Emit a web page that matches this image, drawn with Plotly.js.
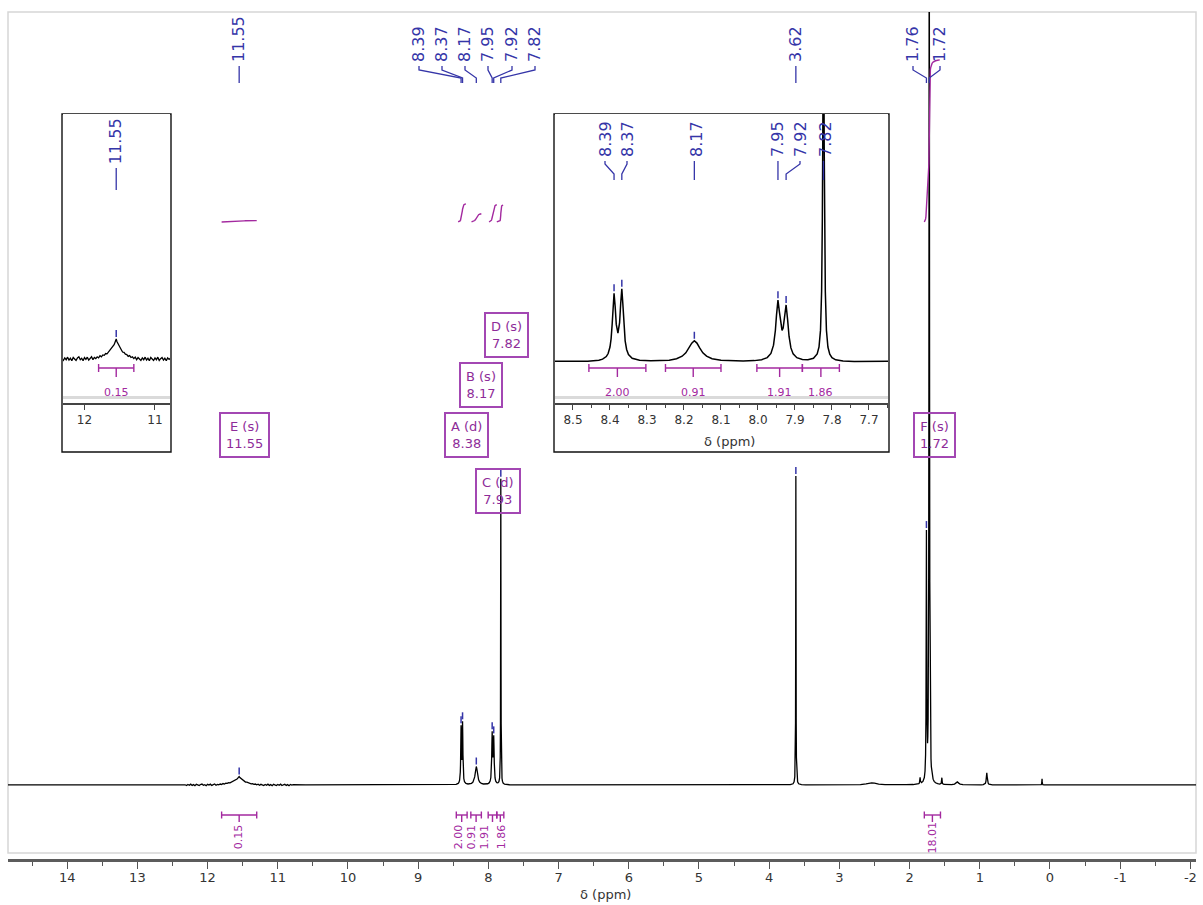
<!DOCTYPE html>
<html><head><meta charset="utf-8">
<script src="https://cdn.plot.ly/plotly-3.0.1.min.js"></script>
<style>html,body{margin:0;padding:0;background:#fff;}#chart{width:1203px;height:905px;}</style>
</head><body><div id="chart"></div>
<script>
// ================= DATA =================
// spectrum segments, ppm (descending) and intensity
const leftPpm=[14.90,13.50,12.40];
const leftInt=[0,0,0.02];
const noisePpm=[12.32,12.30,12.28,12.26,12.24,12.22,12.20,12.18,12.16,12.14,12.12,12.10,12.08,12.06,12.04,12.02,12.00,11.98,11.96,11.94,11.92,11.90,11.88,11.86,11.84,11.82,11.80,11.78,11.76,11.74,11.72,11.70,11.68,11.66,11.64,11.62,11.60,11.58,11.56,11.55,11.54,11.52,11.50,11.48,11.46,11.44,11.42,11.40,11.38,11.36,11.34,11.32,11.30,11.28,11.26,11.24,11.22,11.20,11.18,11.16,11.14,11.12,11.10,11.08,11.06,11.04,11.02,11.00,10.98,10.96,10.94,10.92,10.90,10.88,10.86,10.84,10.82,10.80,10.78];
const noiseInt=[0.05,-0.2,0.15,-0.1,0.25,-0.15,0.1,-0.25,0.2,0.0,-0.2,0.15,0.3,-0.1,0.1,-0.25,0.2,-0.05,0.25,-0.15,0.1,0.3,-0.1,0.2,0.05,0.3,0.15,0.45,0.3,0.55,0.5,0.75,0.7,0.95,1.05,1.3,1.55,1.95,2.45,2.75,2.4,2.0,1.5,1.3,0.95,0.9,0.65,0.6,0.35,0.45,0.2,0.3,0.05,0.25,-0.1,0.2,0.0,-0.2,0.15,-0.1,0.25,-0.15,0.1,-0.25,0.2,0.0,-0.2,0.15,-0.1,0.25,-0.2,0.05,0.2,-0.15,0.1,-0.25,0.15,-0.05,0.1];
const gap1Ppm=[10.60,9.80,9.00,8.70];
const gap1Int=[0.0,0.01,0.02,0.04];
const aroPpm=[8.55,8.50,8.46,8.43,8.42,8.41,8.405,8.40,8.397,8.394,8.392,8.389,8.386,8.383,8.3785,8.374,8.371,8.368,8.365,8.362,8.359,8.355,8.35,8.34,8.32,8.29,8.26,8.24,8.22,8.205,8.195,8.186,8.179,8.172,8.165,8.158,8.149,8.139,8.124,8.10,8.07,8.04,8.01,7.99,7.975,7.965,7.958,7.953,7.95,7.946,7.942,7.938,7.935,7.932,7.928,7.924,7.92,7.916,7.911,7.905,7.895,7.88,7.865,7.85,7.84,7.835,7.831,7.828,7.826,7.825,7.824,7.823,7.822,7.821,7.820,7.818,7.815,7.811,7.806,7.80,7.79,7.77,7.74,7.70,7.65];
const aroInt=[0.06,0.10,0.21,0.51,0.81,1.54,2.40,4.25,6.57,10.86,15.06,19.51,15.76,10.68,8.2,11.15,16.7,20.8,16.1,9.75,6.0,3.56,2.1,1.04,0.48,0.32,0.38,0.53,0.93,1.64,2.61,4.05,5.35,6.03,5.37,4.05,2.6,1.65,0.93,0.49,0.31,0.28,0.39,0.66,1.25,2.42,4.77,8.95,13.24,17.56,14.17,10.0,8.96,9.66,13.2,16.2,12.15,7.25,4.0,2.3,1.22,0.73,0.67,1.06,2.29,4.3,9.05,20.15,41.1,61.1,86.3,100.1,86.3,61.1,41.1,20.1,9.0,4.25,2.2,1.24,0.62,0.25,0.12,0.06,0.03];
const gap2Ppm=[7.40,6.50,5.50,4.50,3.95,3.82];
const gap2Int=[0.02,0.01,0.0,0.01,0.02,0.03];
const methylPpm=[3.75,3.70,3.66,3.645,3.635,3.628,3.625,3.623,3.622,3.621,3.620,3.619,3.618,3.617,3.615,3.612,3.605,3.595,3.58,3.54,3.48];
const methylInt=[0.04,0.1,0.39,1.0,2.73,8.99,20.2,41.4,61.6,87.1,101,87.1,61.6,41.4,20.2,8.99,2.73,1.0,0.39,0.1,0.04];
const gap3Ppm=[3.30,3.00,2.90];
const gap3Int=[0.02,0.02,0.03];
const humpPpm=[2.80,2.70,2.62,2.57,2.54,2.50,2.44,2.35,2.25];
const humpInt=[0.05,0.12,0.35,0.6,0.7,0.6,0.3,0.12,0.06];
const aliPpm=[2.05,1.95,1.90,1.87,1.86,1.855,1.85,1.845,1.84,1.83,1.81,1.80,1.79,1.78,1.772,1.767,1.764,1.762,1.76,1.758,1.756,1.753,1.748,1.744,1.74,1.736,1.732,1.728,1.725,1.723,1.72,1.717,1.715,1.712,1.708,1.704,1.70,1.695,1.69,1.68,1.665,1.65,1.63,1.60,1.57,1.55,1.545,1.54,1.535,1.53,1.51,1.45];
const aliInt=[0.09,0.14,0.24,0.42,0.67,1.21,2.47,1.28,0.84,0.77,1.17,1.61,2.44,4.54,9.94,22.1,42.7,67.0,83.3,67.6,44.0,24.5,14.6,13.6,15.8,21.6,34.6,67.2,129.8,212.0,330.8,211.7,129.4,66.5,33.4,19.8,13.05,8.55,6.0,3.47,1.89,1.17,0.72,0.43,0.3,0.5,1.03,2.37,1.02,0.46,0.16,0.1];
const p5Ppm=[1.40,1.36,1.34,1.32,1.30,1.28,1.24,1.15,1.05];
const p5Int=[0.12,0.3,0.6,1.0,0.6,0.3,0.12,0.03,0.02];
const p6Ppm=[0.98,0.95,0.93,0.92,0.912,0.906,0.90,0.894,0.888,0.88,0.87,0.85,0.82,0.60,0.35];
const p6Int=[0.04,0.1,0.27,0.55,1.25,2.56,4.0,2.56,1.25,0.55,0.27,0.1,0.04,0.01,0.01];
const p7Ppm=[0.16,0.143,0.125,0.119,0.116,0.113,0.110,0.107,0.101,0.083,0.06];
const p7Int=[0.01,0.02,0.12,0.4,1.0,2.0,1.0,0.4,0.12,0.02,0.01];
const rightPpm=[-1.00,-2.10];
const rightInt=[0,0];

// labelled peaks
const peakPos=[11.55,8.389,8.368,8.172,7.946,7.924,7.823,3.620,1.760,1.720];
const peakLabels=["11.55","8.39","8.37","8.17","7.95","7.92","7.82","3.62","1.76","1.72"];

// multiplets
const multLetter=["A","B","C","D","E","F"];
const multType=["d","s","d","s","s","s"];
const multShift=[8.38,8.17,7.93,7.82,11.55,1.72];

// integrals (E, A, B, C, D, F)
const intFrom=[11.80,8.457,8.25,8.003,7.88,1.79];
const intTo=[11.30,8.303,8.10,7.88,7.78,1.56];
const intValue=[0.15,2.00,0.91,1.91,1.86,18.01];

// tick labels
const xTickVals=[14,13,12,11,10,9,8,7,6,5,4,3,2,1,0,-1,-2];
const xTickText=["14","13","12","11","10","9","8","7","6","5","4","3","2","1","0","-1","-2"];
const inset1TickVals=[12,11];
const inset1TickText=["12","11"];
const inset2TickVals=[8.5,8.4,8.3,8.2,8.1,8.0,7.9,7.8,7.7];
const inset2TickText=["8.5","8.4","8.3","8.2","8.1","8.0","7.9","7.8","7.7"];

// ================= BUILD =================
const segs=[[leftPpm,leftInt],[noisePpm,noiseInt],[gap1Ppm,gap1Int],[aroPpm,aroInt],[gap2Ppm,gap2Int],[methylPpm,methylInt],[gap3Ppm,gap3Int],[humpPpm,humpInt],[aliPpm,aliInt],[p5Ppm,p5Int],[p6Ppm,p6Int],[p7Ppm,p7Int],[rightPpm,rightInt]];
const specX=[],specY=[];
segs.forEach(([p,v])=>p.forEach((x,i)=>{specX.push(x);specY.push(v[i]);}));

const F='DejaVu Sans, Verdana, sans-serif';
const BLUE='#3535a8', PURPLE='#a3299f', BOXB='#a347b3', BOXT='#8e2c99';
const PL=8, PT=12, PW=1188, PH=847;
const PX=X=>(X-PL)/PW, PY=Y=>(PT+PH-Y)/PH;
const mainRange=[14.843,-2.080], mainY=[-24.2,252.6];
const in1Range=[12.305,10.787], in1Dom=[63,170], in1Y=[-6.03,33.56];
const in2Range=[8.5486,7.6486], in2Dom=[555,888], in2Y=[-11.65,70.45];
const mainPx=p=>PL+(mainRange[0]-p)/(mainRange[0]-mainRange[1])*PW;
const in1Px=p=>in1Dom[0]+(in1Range[0]-p)/(in1Range[0]-in1Range[1])*(in1Dom[1]-in1Dom[0]);
const in2Px=p=>in2Dom[0]+(in2Range[0]-p)/(in2Range[0]-in2Range[1])*(in2Dom[1]-in2Dom[0]);
const unitPerPx=(mainY[1]-mainY[0])/PH;

const traces=[];
traces.push({x:specX,y:specY,type:'scatter',mode:'lines',line:{color:'#000',width:1.3},xaxis:'x',yaxis:'y',hoverinfo:'skip'});
traces.push({x:specX,y:specY,type:'scatter',mode:'lines',line:{color:'#000',width:1.3},xaxis:'x2',yaxis:'y2',hoverinfo:'skip'});
traces.push({x:specX,y:specY,type:'scatter',mode:'lines',line:{color:'#000',width:1.5},xaxis:'x3',yaxis:'y3',hoverinfo:'skip'});

// integral curves (cumulative area of the spectrum inside each region)
const intBase=(785-222)*unitPerPx, intScale=9*unitPerPx;
intFrom.forEach((a,j)=>{
  const b=intTo[j]; const xs=[],cs=[]; let acc=0,prev=-1;
  specX.forEach((x,i)=>{ if(x<=a && x>=b){ if(prev>=0) acc+=(specY[i]+specY[prev])/2*(specX[prev]-x); xs.push(x); cs.push(acc); prev=i; }});
  traces.push({x:xs,y:cs.map(c=>intBase+c/acc*intValue[j]*intScale),type:'scatter',mode:'lines',line:{color:PURPLE,width:1.4},xaxis:'x',yaxis:'y',hoverinfo:'skip'});
});

const shapes=[], ann=[];
const seg=(x0,y0,x1,y1,color,w,xref)=>({type:'line',xref:xref||'paper',yref:'paper',x0,y0,x1,y1,line:{color,width:w}});
// frame
shapes.push({type:'rect',xref:'paper',yref:'paper',x0:0,x1:1,y0:PY(853),y1:1,line:{color:'#d6d6d6',width:1.5},layer:'below'});
// inset boxes
[[62,171],[554,889]].forEach(([a,b])=>{
  shapes.push({type:'rect',xref:'paper',yref:'paper',x0:PX(a),x1:PX(b),y0:PY(452),y1:PY(114),line:{color:'#111',width:1.4},fillcolor:'#fff',layer:'below'});
  shapes.push(seg(PX(a+1),PY(397.5),PX(b-1),PY(397.5),'#dadada',3));
});

// peak tops
const topAt=p=>{let m=-1e9;specX.forEach((x,i)=>{if(Math.abs(x-p)<=0.0015&&specY[i]>m)m=specY[i];});return m;};
const tick=(p,xr,yr)=>({type:'line',xref:xr,yref:yr,x0:p,x1:p,ysizemode:'pixel',yanchor:topAt(p),y0:2,y1:9,line:{color:BLUE,width:1.5}});
peakPos.forEach(p=>shapes.push(tick(p,'x','y')));
peakPos.forEach(p=>{ if(p<in1Range[0]&&p>in1Range[1]) shapes.push(tick(p,'x2','y2')); if(p<in2Range[0]&&p>in2Range[1]) shapes.push(tick(p,'x3','y3')); });

// peak labels (label positions = layout)
const lab=(X,Ybot,text)=>ann.push({xref:'paper',yref:'paper',x:PX(X),y:PY(Ybot),text,textangle:-90,showarrow:false,xanchor:'center',yanchor:'bottom',borderpad:0,font:{family:F,size:16,color:BLUE}});
const conn=(lx,pk,y0,y1,y2,y3)=>{
  if(Math.abs(lx-pk)<2){ shapes.push(seg(PX(pk),PY(y0),PX(pk),PY(y3),BLUE,1.3)); }
  else shapes.push({type:'path',xref:'paper',yref:'paper',path:`M ${PX(lx)},${PY(y0)} L ${PX(lx)},${PY(y1)} L ${PX(pk)},${PY(y2)} L ${PX(pk)},${PY(y3)}`,line:{color:BLUE,width:1.3}});
};
const mainLabelX=[239,419,442,465,488,512,535,796,913,940];
peakPos.forEach((p,i)=>{ const lx=mainLabelX[i]; lab(lx,63,peakLabels[i]); conn(lx,mainPx(p),66,70,78,83); });
const in2LabelX=[null,605,627,696,777,800,825,null,null,null];
peakPos.forEach((p,i)=>{ if(in2LabelX[i]===null) return; const lx=in2LabelX[i]; lab(lx,158,peakLabels[i]); conn(lx,in2Px(p),161,164,174,180); });
{ const pk=in1Px(peakPos[0]); lab(pk,165,peakLabels[0]); conn(pk,pk,168,0,0,190); }

// multiplet boxes
const multBoxY=[435,385,491,335,435,435];
multLetter.forEach((L,i)=>ann.push({xref:'x',yref:'paper',x:multShift[i],xshift:5,y:PY(multBoxY[i]),text:`${L} (${multType[i]})<br>${multShift[i].toFixed(2)}`,showarrow:false,xanchor:'center',yanchor:'middle',align:'center',bordercolor:BOXB,borderwidth:2,borderpad:5,font:{family:F,size:13,color:BOXT}}));

// integral bars
const bar=(a,b,xr,Y,capH,tickL)=>{
  const m=(a+b)/2;
  shapes.push(seg(a,PY(Y),b,PY(Y),PURPLE,1.4,xr));
  shapes.push(seg(a,PY(Y-capH),a,PY(Y+capH),PURPLE,1.4,xr));
  shapes.push(seg(b,PY(Y-capH),b,PY(Y+capH),PURPLE,1.4,xr));
  shapes.push(seg(m,PY(Y),m,PY(Y+tickL),PURPLE,1.4,xr));
};
const mainIntShift=[-1,-3.5,-5.5,-8,1,0];
intFrom.forEach((a,j)=>{
  const b=intTo[j], m=(a+b)/2;
  bar(a,b,'x',815,3.5,7);
  ann.push({xref:'x',yref:'paper',x:m,xshift:mainIntShift[j],y:PY(837),text:intValue[j].toFixed(2),textangle:-90,showarrow:false,xanchor:'center',yanchor:'middle',font:{family:F,size:11,color:PURPLE}});
  [['x2',in1Range],['x3',in2Range]].forEach(([xr,r])=>{
    if(m<r[0]&&m>r[1]){ bar(a,b,xr,368,4,9);
      ann.push({xref:xr,yref:'paper',x:m,y:PY(392),text:intValue[j].toFixed(2),showarrow:false,xanchor:'center',yanchor:'middle',font:{family:F,size:11,color:PURPLE}}); }
  });
});

// axis titles
ann.push({xref:'paper',yref:'paper',x:PX(605),y:PY(894),text:'δ (ppm)',showarrow:false,xanchor:'center',yanchor:'middle',font:{family:F,size:13,color:'#333'}});
ann.push({xref:'paper',yref:'paper',x:PX(729),y:PY(441),text:'δ (ppm)',showarrow:false,xanchor:'center',yanchor:'middle',font:{family:F,size:13,color:'#333'}});

const axBase={showgrid:false,zeroline:false,showline:true,ticks:'outside',tickwidth:1,fixedrange:true};
const layout={
  width:1203,height:905,margin:{l:PL,r:1203-PL-PW,t:PT,b:905-PT-PH,pad:0},
  paper_bgcolor:'#fff',plot_bgcolor:'#fff',showlegend:false,
  xaxis:Object.assign({},axBase,{domain:[0,1],anchor:'y',range:mainRange,linecolor:'#5c5c5c',linewidth:3,ticklen:7,tickcolor:'#555',ticklabelstandoff:-3,tickmode:'array',tickvals:xTickVals,ticktext:xTickText,tickfont:{family:F,size:13,color:'#333'},minor:{tickmode:'linear',tick0:0.5,dtick:1,ticks:'outside',ticklen:4,tickcolor:'#555',tickwidth:1}}),
  yaxis:{domain:[0,1],range:mainY,visible:false,fixedrange:true},
  xaxis2:Object.assign({},axBase,{domain:[PX(in1Dom[0]),PX(in1Dom[1])],anchor:'y2',range:in1Range,linecolor:'#444',linewidth:2,ticklen:5,tickcolor:'#444',tickmode:'array',tickvals:inset1TickVals,ticktext:inset1TickText,tickfont:{family:F,size:12,color:'#333'}}),
  yaxis2:{domain:[PY(403),PY(114)],range:in1Y,visible:false,fixedrange:true},
  xaxis3:Object.assign({},axBase,{domain:[PX(in2Dom[0]),PX(in2Dom[1])],anchor:'y3',range:in2Range,linecolor:'#444',linewidth:2,ticklen:5,tickcolor:'#444',tickmode:'array',tickvals:inset2TickVals,ticktext:inset2TickText,tickfont:{family:F,size:12,color:'#333'},minor:{tickmode:'linear',tick0:7.75,dtick:0.1,ticks:'outside',ticklen:3,tickcolor:'#444',tickwidth:1}}),
  yaxis3:{domain:[PY(403),PY(114)],range:in2Y,visible:false,fixedrange:true},
  shapes,annotations:ann
};
Plotly.newPlot('chart',traces,layout,{staticPlot:true,displayModeBar:false});
</script></body></html>
